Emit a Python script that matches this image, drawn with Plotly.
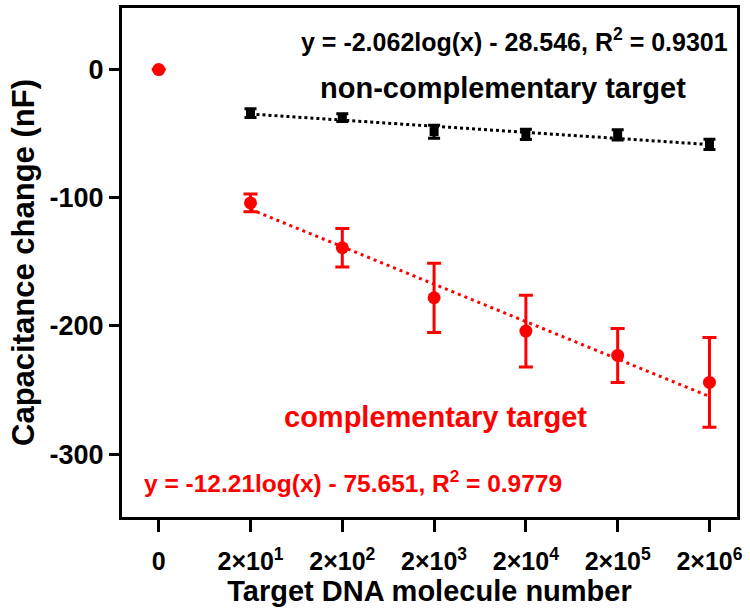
import plotly.graph_objects as go

positions = [0, 1, 2, 3, 4, 5, 6]
tick_labels = ["<b>0</b>", "<b>2×10<sup>1</sup></b>", "<b>2×10<sup>2</sup></b>", "<b>2×10<sup>3</sup></b>",
               "<b>2×10<sup>4</sup></b>", "<b>2×10<sup>5</sup></b>", "<b>2×10<sup>6</sup></b>"]
y_ticks = [0, -100, -200, -300]
y_tick_labels = ["<b>0</b>", "<b>-100</b>", "<b>-200</b>", "<b>-300</b>"]

comp_x = [0, 1, 2, 3, 4, 5, 6]
comp_y = [0, -104, -139, -178, -204, -223, -244]
comp_err = [0, 7, 15, 27, 28, 21, 35]

noncomp_x = [1, 2, 3, 4, 5, 6]
noncomp_y = [-34, -37.5, -48.5, -50.5, -51, -58.4]
noncomp_err = [3.5, 3, 5, 4, 4, 4]

comp_fit_x = [1, 6]
comp_fit_y = [-109, -255]
noncomp_fit_x = [1, 6]
noncomp_fit_y = [-34.7, -58.5]

RED = "#ff0000"
FONT = "Liberation Sans"

fig = go.Figure()

fig.add_trace(go.Scatter(x=comp_fit_x, y=comp_fit_y, mode="lines",
                         line=dict(color=RED, width=3, dash="3px,4px"),
                         showlegend=False, hoverinfo="skip"))
fig.add_trace(go.Scatter(x=noncomp_fit_x, y=noncomp_fit_y, mode="lines",
                         line=dict(color="black", width=3, dash="dot"),
                         showlegend=False, hoverinfo="skip"))

fig.add_trace(go.Scatter(x=comp_x, y=comp_y, mode="markers",
                         marker=dict(color=RED, size=13, symbol="circle"),
                         error_y=dict(type="data", array=comp_err, color=RED,
                                      thickness=3, width=7),
                         showlegend=False))
fig.add_trace(go.Scatter(x=noncomp_x, y=noncomp_y, mode="markers",
                         marker=dict(color="black", size=9, symbol="square"),
                         error_y=dict(type="data", array=noncomp_err, color="black",
                                      thickness=3, width=6),
                         showlegend=False))

annotations = [
    dict(x=0.989, y=0.937, xref="paper", yref="paper", xanchor="right", yanchor="middle",
         text="<b>y = -2.062log(x) - 28.546, R<sup>2</sup> = 0.9301</b>", showarrow=False,
         font=dict(family=FONT, size=25, color="black")),
    dict(x=0.62, y=0.843, xref="paper", yref="paper", xanchor="center", yanchor="middle",
         text="<b>non-complementary target</b>", showarrow=False,
         font=dict(family=FONT, size=29, color="black")),
    dict(x=0.509, y=0.196, xref="paper", yref="paper", xanchor="center", yanchor="middle",
         text="<b>complementary target</b>", showarrow=False,
         font=dict(family=FONT, size=29, color=RED)),
    dict(x=0.033, y=0.069, xref="paper", yref="paper", xanchor="left", yanchor="middle",
         text="<b>y = -12.21log(x) - 75.651, R<sup>2</sup> = 0.9779</b>", showarrow=False,
         font=dict(family=FONT, size=24.5, color=RED)),
]

fig.update_layout(
    width=750, height=609,
    margin=dict(l=122, r=13, t=5, b=92),
    paper_bgcolor="white", plot_bgcolor="white",
    font=dict(family=FONT, color="black"),
    annotations=annotations,
    xaxis=dict(range=[-0.4, 6.3], tickmode="array", tickvals=positions,
               ticktext=tick_labels, showgrid=False, zeroline=False,
               showline=True, linecolor="black", linewidth=3, mirror=True,
               ticks="outside", ticklen=12, tickwidth=3, tickcolor="black",
               ticklabelstandoff=8,
               tickfont=dict(family=FONT, size=25, color="black"),
               title=dict(text="<b>Target DNA molecule number</b>",
                          font=dict(family=FONT, size=29, color="black"), standoff=0)),
    yaxis=dict(range=[-349, 48], tickmode="array", tickvals=y_ticks,
               ticktext=y_tick_labels,
               showgrid=False, zeroline=False,
               showline=True, linecolor="black", linewidth=3, mirror=True,
               ticks="outside", ticklen=10, tickwidth=3, tickcolor="black",
               tickfont=dict(family=FONT, size=27, color="black"),
               title=dict(text="<b>Capacitance change (nF)</b>",
                          font=dict(family=FONT, size=31, color="black"), standoff=6)),
)

fig.write_html("out.html", config={"displayModeBar": False},
               post_script="document.body.style.margin='0px';")
